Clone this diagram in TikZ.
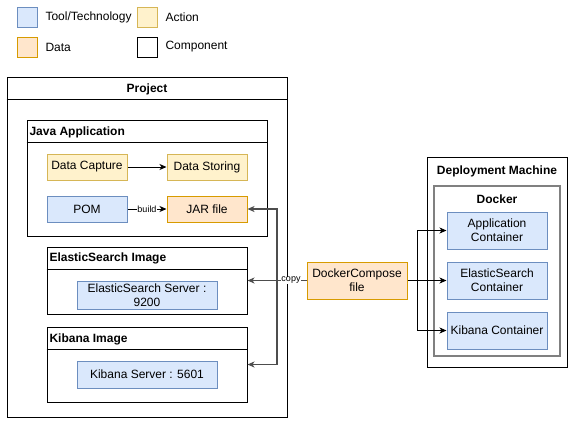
\documentclass[tikz,border=0pt]{standalone}
\usepackage{fontspec}
\setmainfont{Liberation Sans}
\usetikzlibrary{arrows.meta,positioning}
\definecolor{toolfill}{HTML}{DAE8FC}
\definecolor{tooldraw}{HTML}{6C8EBF}
\definecolor{actfill}{HTML}{FFF2CC}
\definecolor{actdraw}{HTML}{D6B656}
\definecolor{datafill}{HTML}{FFE6CC}
\definecolor{datadraw}{HTML}{D79B00}
\definecolor{copyline}{HTML}{4D4D4D}
\tikzset{
  tool/.style={draw=tooldraw, fill=toolfill, align=center, inner sep=0pt},
  act/.style={draw=actdraw, fill=actfill, align=center, inner sep=0pt},
  data/.style={draw=datadraw, fill=datafill, align=center, inner sep=0pt},
  comp/.style={draw=black, fill=white, inner sep=0pt},
  title/.style={font=\fontsize{12}{14}\selectfont\bfseries, inner sep=1pt},
  small/.style={font=\fontsize{9}{10}\selectfont, fill=white, inner sep=0.5pt},
  arr/.style={-{Stealth[length=7pt,width=6pt,inset=2pt]}, line width=1pt},
}
\begin{document}
\begin{tikzpicture}[x=1pt,y=-1pt, line width=1pt, font=\fontsize{12}{14}\selectfont]
\useasboundingbox (0,0) rectangle (581,432);
% legend
\foreach \px/\py/\st/\txt in {17/7/tool/{Tool/Technology}, 137/7/act/Action, 17/37/data/Data, 137/37/comp/Component}
  \node[\st, minimum width=20, minimum height=20, anchor=north west] at (\px,\py) {}
    node[anchor=west, inner sep=0pt] at (\px+28,\py+10) {\txt};
% project
\node[comp, minimum width=280, minimum height=340] (project) at (147,247) {};
\draw ([yshift=-23pt]project.north west) -- ([yshift=-23pt]project.north east);
\node[title] (projecttitle) at (147,89) {Project};
% java application
\node[comp, minimum width=240, minimum height=116] (javaapp) at (147,178) {};
\draw ([yshift=-23pt]javaapp.north west) -- ([yshift=-23pt]javaapp.north east);
\node[title, anchor=west] (javatitle) at (28,132) {Java Application};
\node[act, minimum width=80, minimum height=26] (capture) at (87,167) {Data Capture};
\node[act, minimum width=80, minimum height=26] (storing) at (207,167) {Data Storing};
\node[tool, minimum width=80, minimum height=26] (pom) at (87,209) {POM};
\node[data, minimum width=80, minimum height=26] (jar) at (207,209) {JAR file};
\draw[arr] (capture) -- (storing);
\draw[arr] (pom) -- (jar) node[small, midway] {build};
% elasticsearch image
\node[comp, minimum width=200, minimum height=67] (esimage) at (147,280.5) {};
\draw ([yshift=-23pt]esimage.north west) -- ([yshift=-23pt]esimage.north east);
\node[title, anchor=west] (estitle) at (48,258) {ElasticSearch Image};
\node[tool, minimum width=140, minimum height=28] (esserver) at (147,295) {ElasticSearch Server :\\9200};
% kibana image
\node[comp, minimum width=200, minimum height=75] (kbimage) at (147,364.5) {};
\draw ([yshift=-23pt]kbimage.north west) -- ([yshift=-23pt]kbimage.north east);
\node[title, anchor=west] (kbtitle) at (48,339) {Kibana Image};
\node[tool, minimum width=140, minimum height=27] (kbserver) at (147,374.5) {Kibana Server : 5601};
% docker compose
\node[data, minimum width=100, minimum height=37] (compose) at (357,280.5) {DockerCompose\\file};
\coordinate (copypt) at (277,280.5);
\draw[arr, copyline, line width=1.4pt] (compose.west) -- (copypt) |- (jar.east);
\draw[arr, copyline, line width=1.4pt] (copypt) -- (esimage.east);
\draw[arr, copyline, line width=1.4pt] (copypt) |- (kbimage.east);
\node[small] (copylabel) at (291,280.5) {copy};
% deployment machine
\node[comp, minimum width=140, minimum height=210] (deploy) at (497,262) {};
\node[title] (deploytitle) at (497,171) {Deployment Machine};
\node[draw=gray, line width=2pt, minimum width=126, minimum height=170, inner sep=0pt] (docker) at (497,271) {};
\node[title] (dockertitle) at (497,199) {Docker};
\node[tool, minimum width=100, minimum height=37] (appcont) at (497,230.5) {Application\\Container};
\node[tool, minimum width=100, minimum height=37] (escont) at (497,280.5) {ElasticSearch\\Container};
\node[tool, minimum width=100, minimum height=37] (kbcont) at (497,330.5) {Kibana Container};
\coordinate (deploypt) at (417,280.5);
\draw[arr] (compose.east) -- (escont.west);
\draw[arr] (deploypt) |- (appcont.west);
\draw[arr] (deploypt) |- (kbcont.west);
\end{tikzpicture}
\end{document}
